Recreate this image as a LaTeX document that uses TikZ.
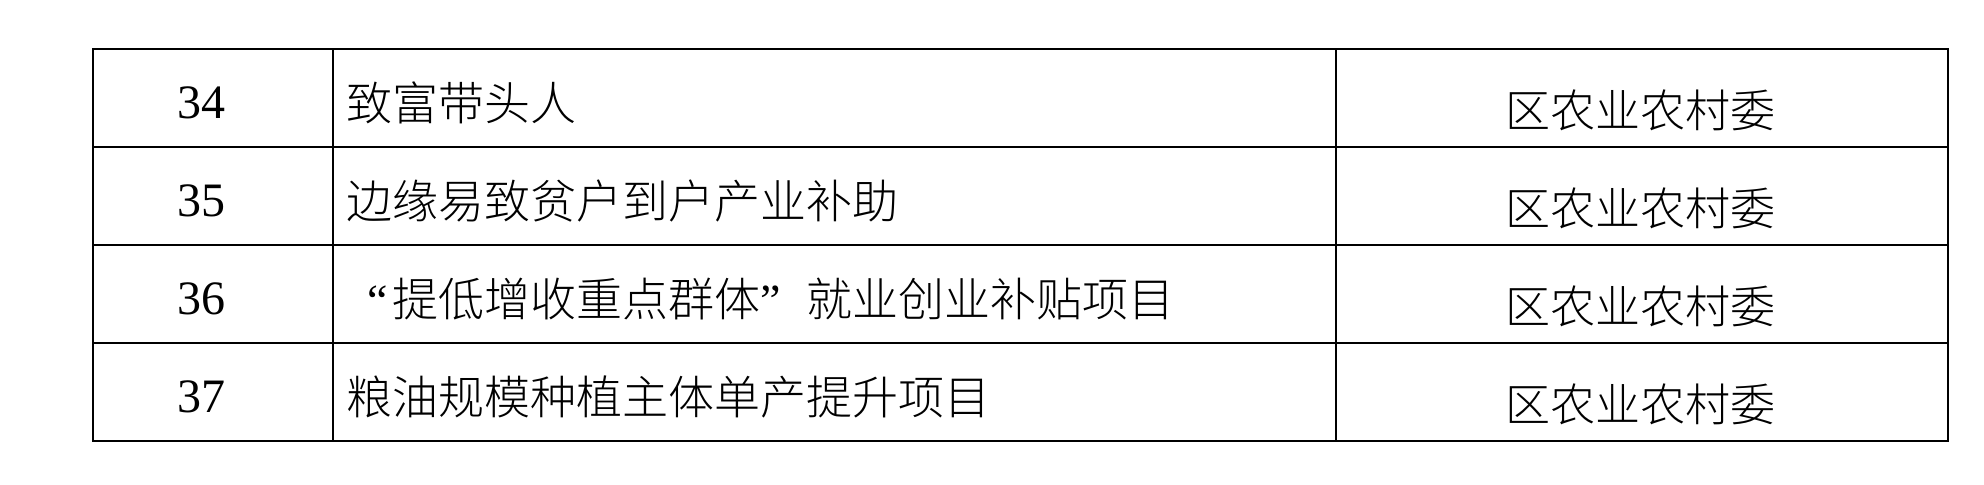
\documentclass[tikz,border=0pt]{standalone}
\usepackage{fontspec}
\setmainfont{Liberation Serif}
\newfontfamily\cjk{Noto Sans CJK SC Light}
\usepackage{tikz}
\usepackage{xcolor}

\newcommand\openq{\makebox[1em][r]{\rmfamily “\hspace{0.1em}}}
\newcommand\closeq{\makebox[1em][l]{\rmfamily ”}}

\tikzset{
    gridline/.style={draw=black, line width=0.8pt},
    numtext/.style={inner sep=0pt, anchor=base, font=\fontsize{24pt}{28pt}\selectfont},
    itemtext/.style={inner sep=0pt, anchor=base west, font=\cjk\fontsize{23pt}{28pt}\selectfont},
    unittext/.style={inner sep=0pt, anchor=base, font=\cjk\fontsize{22.5pt}{28pt}\selectfont}
}

\begin{document}
\begin{tikzpicture}[x=0.5pt, y=-0.5pt]
        \useasboundingbox (0,0) rectangle (1984,484);
        \draw[gridline] (93,49) rectangle (1948,441);
        \foreach \x in {333, 1336} {
            \draw[gridline] (\x,49) -- (\x,441);
        }
        \foreach \i in {1, 2, 3} {
            \draw[gridline] (93,49+98*\i) -- (1948,49+98*\i);
        }
        \foreach \num/\item[count=\i] in {34/致富带头人, 35/边缘易致贫户到户产业补助, 36/\openq 提低增收重点群体\closeq 就业创业补贴项目, 37/粮油规模种植主体单产提升项目} {
            \node[numtext] (num\i) at (201, 20+98*\i) {\num};
            \node[itemtext] (item\i) at (346, 22+98*\i) {\item};
            \node[unittext] (unit\i) at (1640, 29+98*\i) {区农业农村委};
        }
    \end{tikzpicture}
\end{document}
